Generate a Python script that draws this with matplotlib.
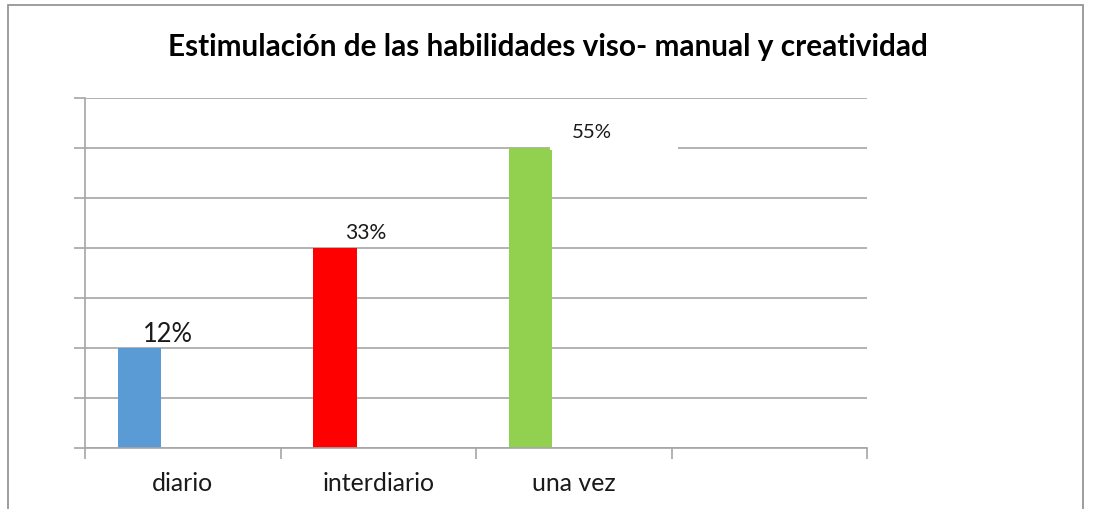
import matplotlib
matplotlib.use("Agg")
import matplotlib.pyplot as plt
from matplotlib.patches import Rectangle

# ---- data ----
categories = ["diario", "interdiario", "una vez"]
values = [2, 4, 6]
value_labels = ["12%", "33%", "55%"]
bar_colors = ["#5B9BD5", "#FF0000", "#92D050"]
title = "Estimulación de las habilidades viso- manual y creatividad"

W, H = 1093, 510
DPI = 100
FONT = "Lato"

fig = plt.figure(figsize=(W / DPI, H / DPI), dpi=DPI)
fig.patch.set_facecolor("white")


def px_x(x):
    return x / W


def px_y(y):
    return (H - y) / H


renderer = fig.canvas.get_renderer()


def fit_size(text, target_px, weight="normal", base=20):
    t = fig.text(0, 0, text, fontsize=base, family=FONT, weight=weight)
    w = t.get_window_extent(renderer=renderer).width
    t.remove()
    return base * target_px / w


# axes region: x 85..867, y 99..449
ax = fig.add_axes([px_x(85), px_y(449), px_x(867) - px_x(85), px_y(99) - px_y(449)])
ax.set_xlim(-0.5, 3.5)
ax.set_ylim(0, 7)

grid_c = "#A6A6A6"
for s in ["top", "right"]:
    ax.spines[s].set_visible(False)
for s in ["left", "bottom"]:
    ax.spines[s].set_color(grid_c)
    ax.spines[s].set_linewidth(1.2)

ax.set_yticks(range(0, 8))
ax.yaxis.grid(True, color=grid_c, linewidth=1.2)
ax.set_axisbelow(True)
ax.tick_params(axis="y", length=8, color=grid_c, width=1.2, labelleft=False)
ax.set_xticks([-0.5, 0.5, 1.5, 2.5, 3.5])
ax.tick_params(axis="x", length=8, color=grid_c, width=1.2, labelbottom=False)

# bars: first of three cluster positions (Excel gap 150%)
slot_w = 1.0
bar_w = slot_w / 4.5
xs = list(range(len(categories)))
for i, (v, c) in enumerate(zip(values, bar_colors)):
    ax.bar(i - 0.5 + 0.75 * bar_w, v, width=bar_w, align="edge", color=c, zorder=2)

# category labels
cat_size = fit_size("interdiario", 113)
for i, cat in enumerate(categories):
    ax.text(i, -0.84, cat, ha="center", va="baseline", fontsize=cat_size,
            family=FONT, color="#1a1a1a", clip_on=False)

# white box behind 55% label (covers gridline)
ax.add_patch(Rectangle((2.5 * 0 + (550 - 85) / 195.5 - 0.5, 5.96),
                       (678 - 550) / 195.5, 0.7, facecolor="white",
                       edgecolor="none", zorder=3))

# value labels
lab_dx = [0.148, 0.159, 0.317]
lab_dy = [0.14, 0.2, 0.22]
lab_w = [50, 41, 40]
for i, (v, lab) in enumerate(zip(values, value_labels)):
    cx = i - 0.5 + 0.75 * bar_w + bar_w / 2 + lab_dx[i]
    ax.text(cx, v + lab_dy[i], lab, ha="center", va="baseline",
            fontsize=fit_size(lab, lab_w[i]), family=FONT, color="#1a1a1a", zorder=4)

# title
fig.text(px_x((167 + 929) / 2), px_y(56), title, ha="center", va="baseline",
         fontsize=fit_size(title, 762, weight="bold"), weight="bold",
         family=FONT, color="black")

# outer frame (cut off at bottom)
frame = Rectangle((px_x(8), -0.1), px_x(1083) - px_x(8), px_y(6) + 0.1,
                  transform=fig.transFigure, fill=False, edgecolor="#8C8C8C",
                  linewidth=1.2)
fig.patches.append(frame)

fig.savefig("out.png", dpi=DPI)
